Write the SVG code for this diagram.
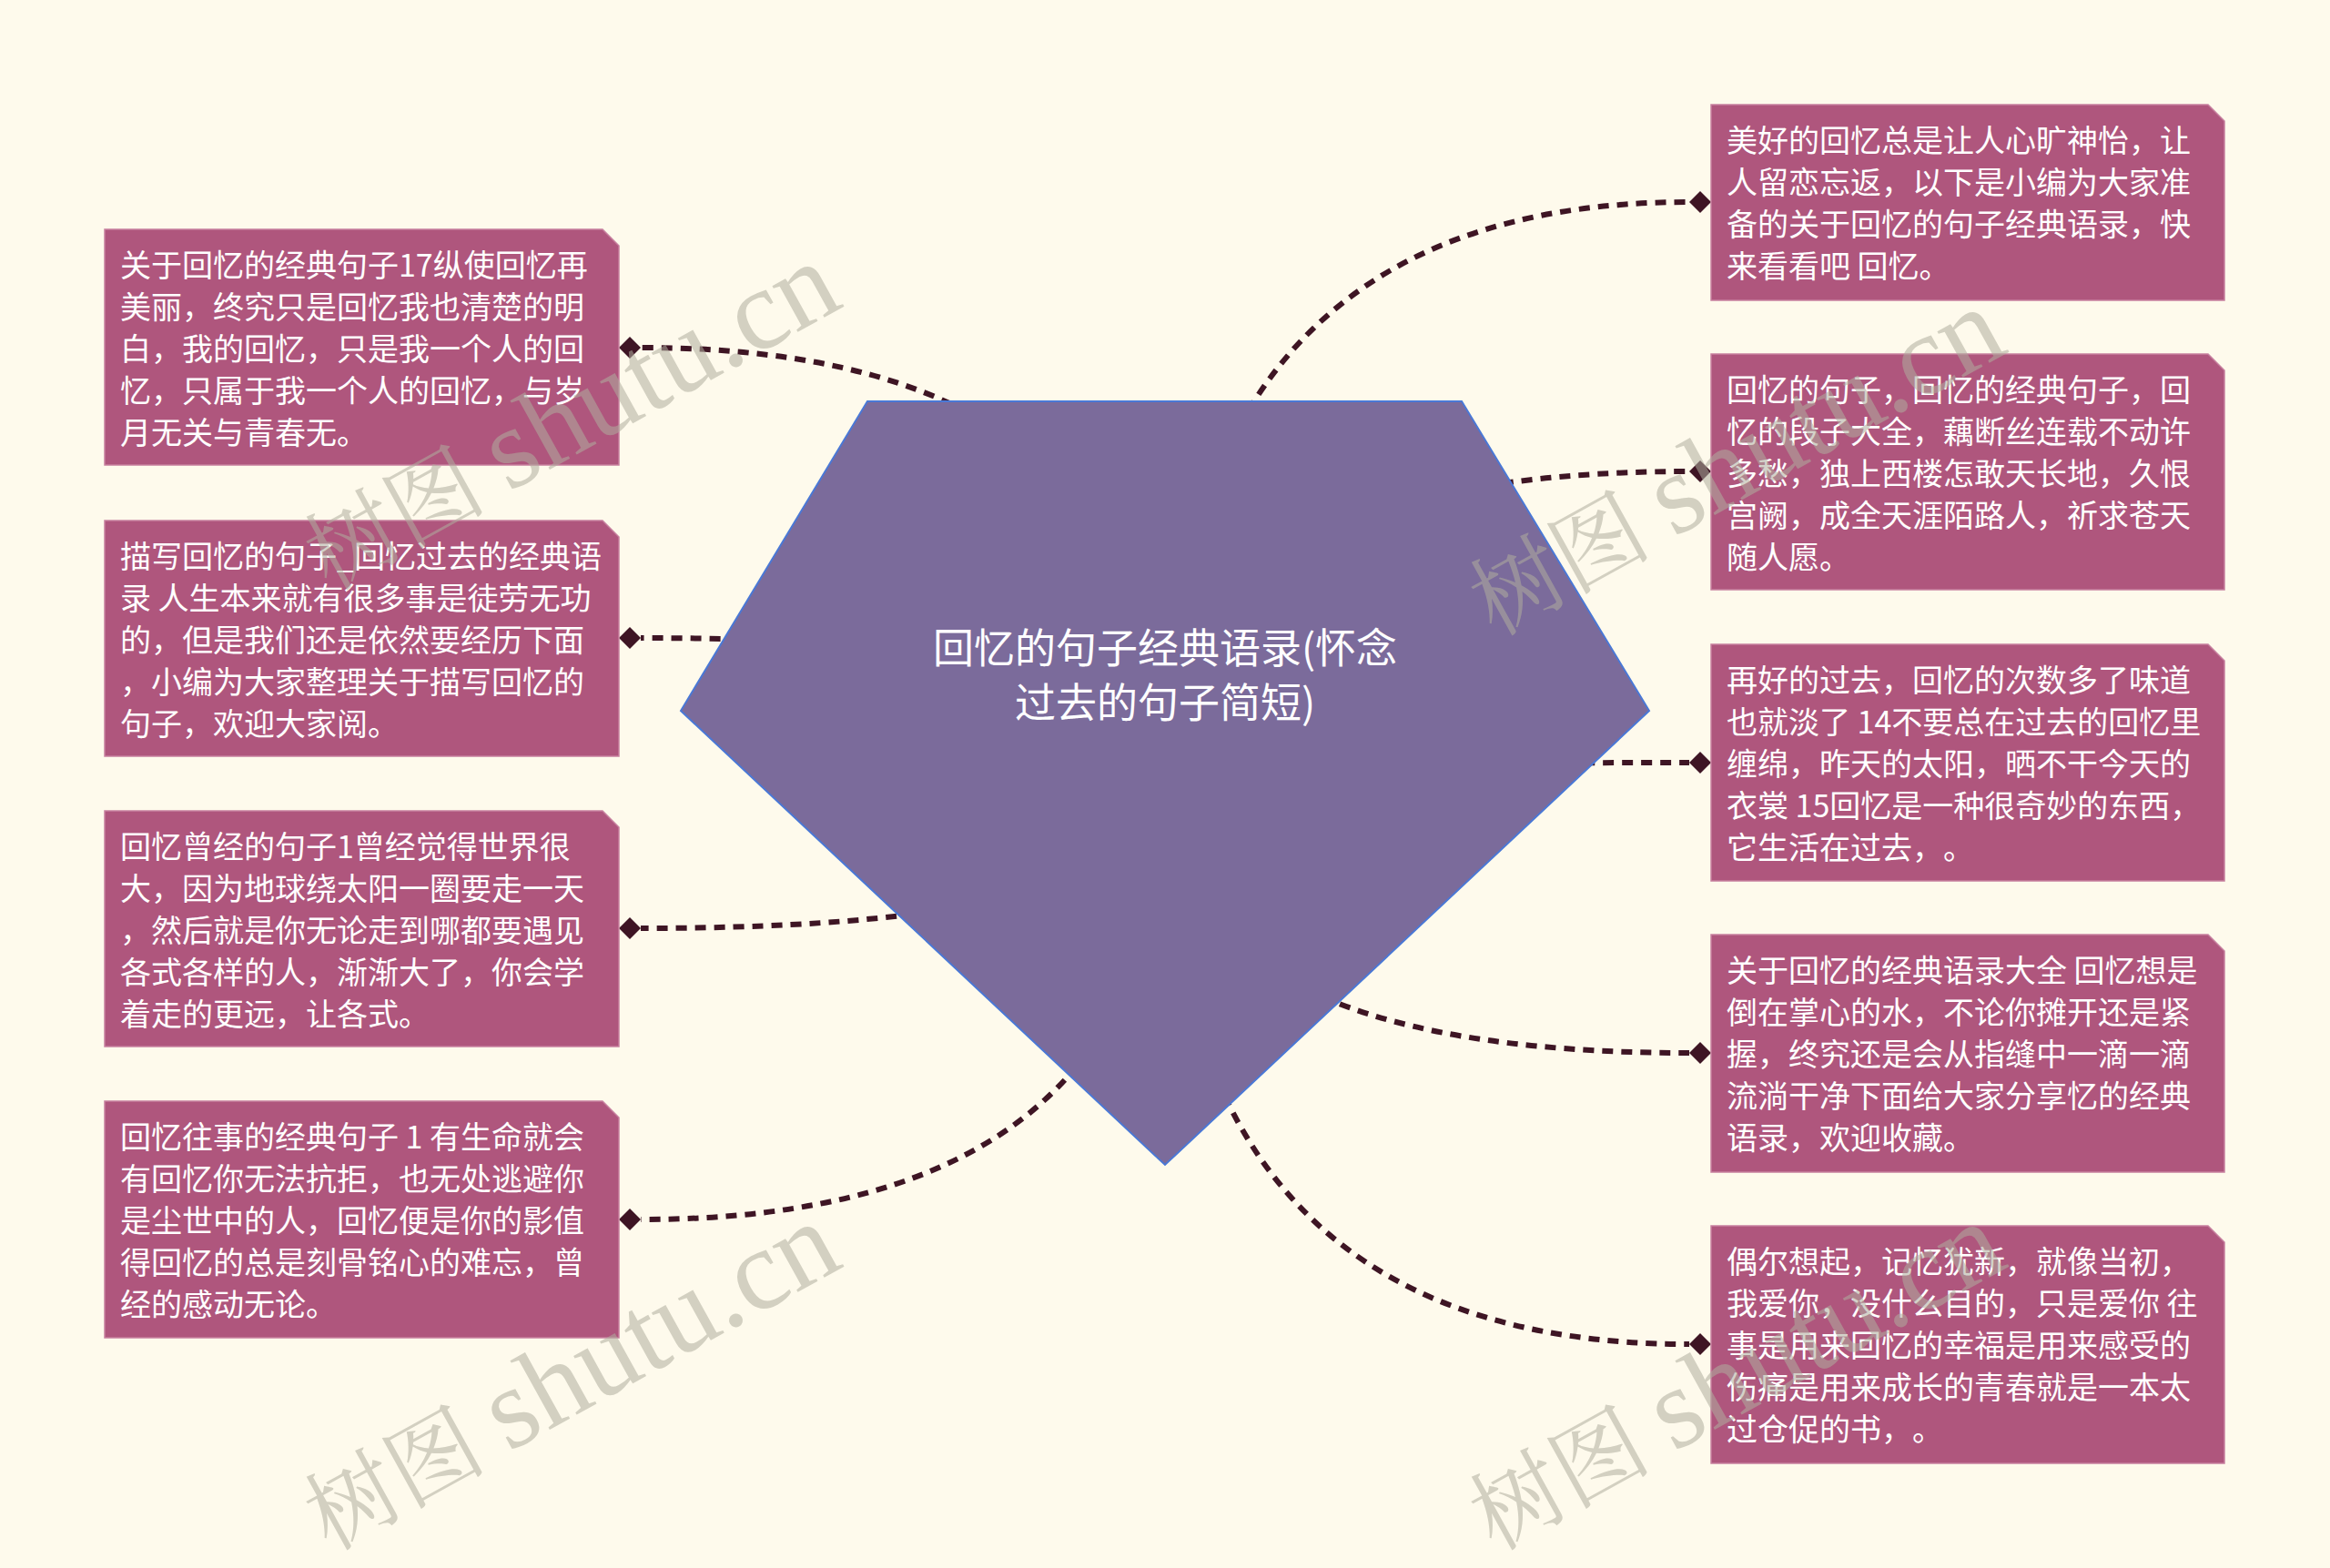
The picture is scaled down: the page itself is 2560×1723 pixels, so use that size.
<svg xmlns="http://www.w3.org/2000/svg" width="2560" height="1723" viewBox="0 0 2560 1723">
<style>
text{text-spacing-trim:space-all}
.box{fill:#AF567D;stroke:#C7809F;stroke-width:1.5}
.t{font-family:"Noto Sans CJK SC","Noto Sans",sans-serif;font-size:34px;fill:#ffffff}
.ct{font-family:"Noto Sans CJK SC","Noto Sans",sans-serif;font-size:45px;fill:#ffffff;text-anchor:middle}
.ln{fill:none;stroke:#3E1524;stroke-width:6;stroke-dasharray:12 9;marker-end:url(#dia)}
.wm{font-family:"Liberation Serif","Noto Serif CJK SC","Noto Sans CJK SC",serif;font-size:100px;fill:#b0ae9e;opacity:0.55}
.wl{font-size:126px}
</style>
<defs>
<marker id="dia" markerUnits="userSpaceOnUse" viewBox="0 -13 24 26" refX="0" refY="0" markerWidth="24" markerHeight="26" orient="auto">
<polygon points="0,0 12,-12 24,0 12,12" fill="#3E1524"/>
</marker>
</defs>
<rect width="2560" height="1723" fill="#FEFAEC"/>
<g id="connectors">
<path class="ln" d="M1280 856 Q1280 382 704 382"/>
<path class="ln" d="M1280 856 Q1280 701 704 701"/>
<path class="ln" d="M1280 856 Q1280 1020 704 1020"/>
<path class="ln" d="M1280 856 Q1280 1340 704 1340"/>
<path class="ln" d="M1280 856 Q1280 222 1856 222"/>
<path class="ln" d="M1280 856 Q1280 518 1856 518"/>
<path class="ln" d="M1280 856 Q1280 838 1856 838"/>
<path class="ln" d="M1280 856 Q1280 1157 1856 1157"/>
<path class="ln" d="M1280 856 Q1280 1477 1856 1477"/>
</g>
<g id="center">
<polygon points="953,441 1606,441 1812,781 1280,1280 748,781" fill="#7B6B9B" stroke="#4A78D6" stroke-width="2"/>
<text class="ct" x="1280" y="729">回忆的句子经典语录(怀念</text>
<text class="ct" x="1280" y="789">过去的句子简短)</text>
</g>
<g id="n1">
<polygon class="box" points="115,252 662,252 680,270 680,511 115,511"/>
<text class="t" x="132" y="304">关于回忆的经典句子17纵使回忆再</text>
<text class="t" x="132" y="350">美丽，终究只是回忆我也清楚的明</text>
<text class="t" x="132" y="396">白，我的回忆，只是我一个人的回</text>
<text class="t" x="132" y="442">忆，只属于我一个人的回忆，与岁</text>
<text class="t" x="132" y="488">月无关与青春无。</text>
</g>
<g id="n2">
<polygon class="box" points="115,572 662,572 680,590 680,831 115,831"/>
<text class="t" x="132" y="624">描写回忆的句子_回忆过去的经典语</text>
<text class="t" x="132" y="670">录 人生本来就有很多事是徒劳无功</text>
<text class="t" x="132" y="716">的，但是我们还是依然要经历下面</text>
<text class="t" x="132" y="762">，小编为大家整理关于描写回忆的</text>
<text class="t" x="132" y="808">句子，欢迎大家阅。</text>
</g>
<g id="n3">
<polygon class="box" points="115,891 662,891 680,909 680,1150 115,1150"/>
<text class="t" x="132" y="943">回忆曾经的句子1曾经觉得世界很</text>
<text class="t" x="132" y="989">大，因为地球绕太阳一圈要走一天</text>
<text class="t" x="132" y="1035">，然后就是你无论走到哪都要遇见</text>
<text class="t" x="132" y="1081">各式各样的人，渐渐大了，你会学</text>
<text class="t" x="132" y="1127">着走的更远，让各式。</text>
</g>
<g id="n4">
<polygon class="box" points="115,1210 662,1210 680,1228 680,1470 115,1470"/>
<text class="t" x="132" y="1262">回忆往事的经典句子 1 有生命就会</text>
<text class="t" x="132" y="1308">有回忆你无法抗拒，也无处逃避你</text>
<text class="t" x="132" y="1354">是尘世中的人，回忆便是你的影值</text>
<text class="t" x="132" y="1400">得回忆的总是刻骨铭心的难忘，曾</text>
<text class="t" x="132" y="1446">经的感动无论。</text>
</g>
<g id="n5">
<polygon class="box" points="1880,115 2426,115 2444,133 2444,330 1880,330"/>
<text class="t" x="1897" y="167">美好的回忆总是让人心旷神怡，让</text>
<text class="t" x="1897" y="213">人留恋忘返，以下是小编为大家准</text>
<text class="t" x="1897" y="259">备的关于回忆的句子经典语录，快</text>
<text class="t" x="1897" y="305">来看看吧 回忆。</text>
</g>
<g id="n6">
<polygon class="box" points="1880,389 2426,389 2444,407 2444,648 1880,648"/>
<text class="t" x="1897" y="441">回忆的句子，回忆的经典句子，回</text>
<text class="t" x="1897" y="487">忆的段子大全，藕断丝连载不动许</text>
<text class="t" x="1897" y="533">多愁，独上西楼怎敢天长地，久恨</text>
<text class="t" x="1897" y="579">宫阙，成全天涯陌路人，祈求苍天</text>
<text class="t" x="1897" y="625">随人愿。</text>
</g>
<g id="n7">
<polygon class="box" points="1880,708 2426,708 2444,726 2444,968 1880,968"/>
<text class="t" x="1897" y="760">再好的过去，回忆的次数多了味道</text>
<text class="t" x="1897" y="806">也就淡了 14不要总在过去的回忆里</text>
<text class="t" x="1897" y="852">缠绵，昨天的太阳，晒不干今天的</text>
<text class="t" x="1897" y="898">衣裳 15回忆是一种很奇妙的东西，</text>
<text class="t" x="1897" y="944">它生活在过去，。</text>
</g>
<g id="n8">
<polygon class="box" points="1880,1027 2426,1027 2444,1045 2444,1288 1880,1288"/>
<text class="t" x="1897" y="1079">关于回忆的经典语录大全 回忆想是</text>
<text class="t" x="1897" y="1125">倒在掌心的水，不论你摊开还是紧</text>
<text class="t" x="1897" y="1171">握，终究还是会从指缝中一滴一滴</text>
<text class="t" x="1897" y="1217">流淌干净下面给大家分享忆的经典</text>
<text class="t" x="1897" y="1263">语录，欢迎收藏。</text>
</g>
<g id="n9">
<polygon class="box" points="1880,1347 2426,1347 2444,1365 2444,1608 1880,1608"/>
<text class="t" x="1897" y="1399">偶尔想起，记忆犹新，就像当初，</text>
<text class="t" x="1897" y="1445">我爱你，没什么目的，只是爱你 往</text>
<text class="t" x="1897" y="1491">事是用来回忆的幸福是用来感受的</text>
<text class="t" x="1897" y="1537">伤痛是用来成长的青春就是一本太</text>
<text class="t" x="1897" y="1583">过仓促的书，。</text>
</g>
<g id="watermarks">
<text class="wm" transform="translate(362,650) rotate(-29)">树图 <tspan class="wl">shutu.cn</tspan></text>
<text class="wm" transform="translate(1642,700) rotate(-29)">树图 <tspan class="wl">shutu.cn</tspan></text>
<text class="wm" transform="translate(362,1705) rotate(-29)">树图 <tspan class="wl">shutu.cn</tspan></text>
<text class="wm" transform="translate(1642,1705) rotate(-29)">树图 <tspan class="wl">shutu.cn</tspan></text>
</g>
</svg>
